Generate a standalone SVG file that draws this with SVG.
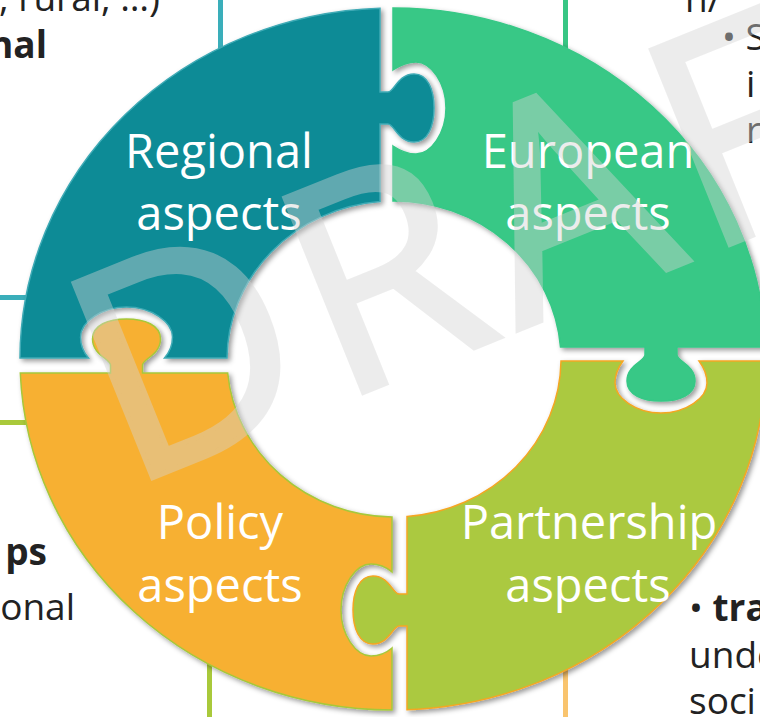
<svg xmlns="http://www.w3.org/2000/svg" width="760" height="717" viewBox="0 0 760 717">
<defs>
<filter id="sh" x="-10%" y="-10%" width="125%" height="125%"><feDropShadow dx="2.5" dy="2.5" stdDeviation="2.5" flood-color="#000" flood-opacity="0.4"/></filter>
</defs>
<style>
.lbl{font-family:"Open Sans","Liberation Sans",sans-serif;font-size:47px;fill:#fff;text-anchor:middle}
.body{font-family:"Open Sans","Liberation Sans",sans-serif;font-size:37px;fill:#222}
.b{font-weight:700}
.piece{stroke-width:1.5;filter:url(#sh)}
.ln{stroke-width:5;fill:none}
.wm{font-family:"Open Sans","Liberation Sans",sans-serif;font-size:294px;letter-spacing:14px;fill:#D4D4D4;stroke:#D4D4D4;stroke-width:5;opacity:0.42}
</style>
<rect width="760" height="717" fill="#fff"/>
<g id="connectors">
<line class="ln" x1="220.5" y1="0" x2="220.5" y2="55" stroke="#3AAEBA"/>
<line class="ln" x1="0" y1="297.5" x2="30" y2="297.5" stroke="#3AAEBA"/>
<line class="ln" x1="565.5" y1="0" x2="565.5" y2="60" stroke="#38C684"/>
<line class="ln" x1="0" y1="422.5" x2="30" y2="422.5" stroke="#A9C93B"/>
<line class="ln" x1="209.5" y1="640" x2="209.5" y2="717" stroke="#A9C93B"/>
<line class="ln" x1="565.5" y1="640" x2="565.5" y2="717" stroke="#F9C46E"/>
</g>
<g id="side-text" class="body">
<text x="160" y="11" text-anchor="end">, rural, …)</text>
<text x="47" y="58" text-anchor="end" class="b">nal</text>
<text x="685" y="12">n/</text>
<text x="722" y="50">• S</text>
<text x="746" y="97">i</text>
<text x="746" y="143">r</text>
<text x="47" y="565" text-anchor="end" class="b">ps</text>
<text x="75" y="620" text-anchor="end">onal</text>
<text x="689" y="621">• <tspan class="b">tra</tspan></text>
<text x="689" y="668">unde</text>
<text x="689" y="714">soci</text>
</g>
<g id="regional">
<path class="piece" fill="#088B96" stroke="#3FAAB5" d="M20,358 A373,351 0 0 1 380,8.2 L380,92 L388,92 C394,92 398,74 414,74 C428,74 434,90 434,108 C434,126 428,142 414,142 C398,142 394,124 388,124 L380,124 L380,201.6 A167,158 0 0 0 227,358 L164.5,358 C170.5,351 172.5,345 172.5,337 C172.5,322 151.5,307 126.5,307 C101.5,307 80.5,322 80.5,337 C80.5,345 82.5,351 88.5,358 Z"/>
<text class="lbl" x="219" y="168">Regional</text>
<text class="lbl" x="219" y="230">aspects</text>
</g>
<g id="european">
<path class="piece" fill="#37C886" stroke="#37C886" d="M393,8 A373,351 0 0 1 765.8,347 L677,347 L677,355 C677,361 695,365 695,381 C695,395 679,401 661,401 C643,401 627,395 627,381 C627,365 645,361 645,355 L645,347 L560.5,347 A167,158 0 0 0 393,201 L393,146 C402,152 408,154 416,154 C431,154 446,133 446,108 C446,83 431,62 416,62 C408,62 402,64 393,70 Z"/>
<text class="lbl" x="588" y="168">European</text>
<text class="lbl" x="588" y="230">aspects</text>
</g>
<g id="partnership">
<path class="piece" fill="#ABC940" stroke="#F5A623" d="M561,361 L623,361 C617,369 615,375 615,383 C615,398 636,413 661,413 C686,413 707,398 707,383 C707,375 705,369 699,361 L766,361 A373,351 0 0 1 407,709.75 L407,626 L399,626 C393,626 389,644 373,644 C359,644 353,628 353,610 C353,592 359,576 373,576 C389,576 393,594 399,594 L407,594 L407,516.5 A167,158 0 0 0 561,361 Z"/>
<text class="lbl" x="589" y="539">Partnership</text>
<text class="lbl" x="588" y="602">aspects</text>
</g>
<g id="policy">
<path class="piece" fill="#F7B033" stroke="#A6C83A" d="M20.3,373 L110.5,373 L110.5,365 C110.5,359 92.5,355 92.5,339 C92.5,325 108.5,319 126.5,319 C144.5,319 160.5,325 160.5,339 C160.5,355 142.5,359 142.5,365 L142.5,373 L227.7,373 A167,158 0 0 0 392,517 L392,572 C385,566 379,564 371,564 C356,564 341,585 341,610 C341,635 356,656 371,656 C379,656 385,654 392,648 L392,710 A373,351 0 0 1 20.3,373 Z"/>
<text class="lbl" x="220" y="539">Policy</text>
<text class="lbl" x="220" y="602">aspects</text>
</g>
<g id="watermark">
<text class="wm" x="-28" y="0" transform="translate(152,478) rotate(-22)">DRAFT</text>
</g>
</svg>
